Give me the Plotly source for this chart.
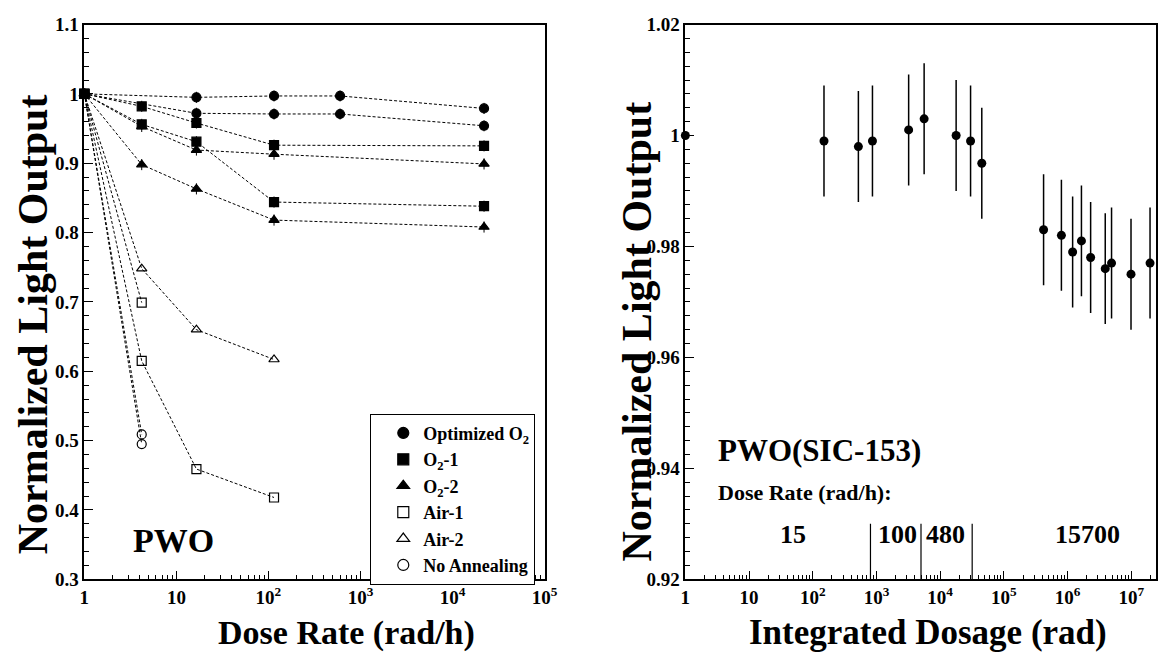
import plotly.graph_objects as go

# ---------------- Left panel data: Normalized light output vs dose rate ----------------
opt_x = [1, 16.5, 115, 600, 22000]
opt_a_y = [1.0, 0.995, 0.997, 0.997, 0.979]
opt_b_y = [1.0, 0.972, 0.971, 0.971, 0.954]

o2_x = [1, 4.2, 16.5, 115, 22000]
o21_a_y = [1.0, 0.982, 0.958, 0.926, 0.925]
o21_b_y = [1.0, 0.956, 0.931, 0.844, 0.838]
o22_a_y = [1.0, 0.953, 0.919, 0.913, 0.899]
o22_b_y = [1.0, 0.898, 0.863, 0.818, 0.808]

air_x = [1, 4.2, 16.5, 115]
air1_a_y = [1.0, 0.615, 0.459, 0.418]
air2_y = [1.0, 0.748, 0.660, 0.617]
short_x = [1, 4.2]
air1_b_y = [1.0, 0.699]
noann_a_y = [1.0, 0.509]
noann_b_y = [1.0, 0.495]

filled_err = 0.008

legend_names = ["<b>Optimized O<sub>2</sub></b>", "<b>O<sub>2</sub>-1</b>", "<b>O<sub>2</sub>-2</b>",
                "<b>Air-1</b>", "<b>Air-2</b>", "<b>No Annealing</b>"]
legend_symbols = ["circle", "square", "triangle-up", "square-open", "triangle-up-open", "circle-open"]

# ---------------- Right panel data: PWO(SIC-153) vs integrated dose ----------------
dose = [1, 150, 520, 865, 3200, 5600, 17800, 30000, 45000,
        4.2e5, 8.0e5, 1.2e6, 1.65e6, 2.3e6, 3.9e6, 4.9e6, 9.9e6, 1.97e7]
lo = [1.000, 0.999, 0.998, 0.999, 1.001, 1.003, 1.000, 0.999, 0.995,
      0.983, 0.982, 0.979, 0.981, 0.978, 0.976, 0.977, 0.975, 0.977]
lo_err = [0.0] + [0.01] * 17
boundaries = [805, 5000, 31800]
boundary_y = [0.92, 0.93]
rate_labels = ["15", "100", "480", "15700"]
rate_label_px = [800, 906, 955, 1099]

FONT = "Liberation Serif"
W, H = 1169, 661

fig = go.Figure()

def add_series(x, y, symbol, err=None):
    fig.add_trace(go.Scatter(
        x=x, y=y, mode="lines+markers", showlegend=False, cliponaxis=False,
        line=dict(color="black", width=1, dash="3px,2px"),
        marker=dict(symbol=symbol, size=9, color="black",
                    line=dict(color="black", width=1.2)),
        error_y=(dict(type="data", array=[0] + [err] * (len(y) - 1), color="black",
                      thickness=1, width=0) if err else None),
        xaxis="x", yaxis="y"))

# open series first
add_series(short_x, noann_a_y, "circle-open")
add_series(short_x, noann_b_y, "circle-open")
add_series(air_x, air2_y, "triangle-up-open")
add_series(air_x, air1_a_y, "square-open")
add_series(short_x, air1_b_y, "square-open")
add_series(opt_x, opt_a_y, "circle", filled_err)
add_series(opt_x, opt_b_y, "circle", filled_err)
add_series(o2_x, o22_a_y, "triangle-up", filled_err)
add_series(o2_x, o22_b_y, "triangle-up", filled_err)
add_series(o2_x, o21_b_y, "square", filled_err)
add_series(o2_x, o21_a_y, "square", filled_err)

# legend-only entries
for name, sym in zip(legend_names, legend_symbols):
    fig.add_trace(go.Scatter(
        x=[None], y=[None], mode="markers", name=name,
        marker=dict(symbol=sym, size=11, color="black", line=dict(color="black", width=1.2)),
        xaxis="x", yaxis="y"))

# right panel
fig.add_trace(go.Scatter(
    x=dose, y=lo, mode="markers", showlegend=False, cliponaxis=False,
    marker=dict(symbol="circle", size=9, color="black"),
    error_y=dict(type="data", array=lo_err, color="black", thickness=1.5, width=0),
    xaxis="x2", yaxis="y2"))

bx, by = [], []
for b in boundaries:
    bx += [b, b, None]
    by += boundary_y + [None]
fig.add_trace(go.Scatter(x=bx, y=by, mode="lines", showlegend=False,
                         line=dict(color="black", width=1.2), xaxis="x2", yaxis="y2"))

ydom = [1 - 588 / H, 1 - 15 / H]
tickfont = dict(family=FONT, size=19, color="black", weight="bold")
common_x = dict(type="log", ticks="inside", ticklen=9, tickwidth=1, tickcolor="black",
                showline=True, linecolor="black", linewidth=1.5, mirror=True,
                showgrid=False, zeroline=False, tickfont=tickfont,
                minor=dict(ticks="inside", ticklen=5, dtick="D1", tickcolor="black", showgrid=False))
common_y = dict(ticks="inside", ticklen=9, tickwidth=1, tickcolor="black",
                showline=True, linecolor="black", linewidth=1.5, mirror=True,
                showgrid=False, zeroline=False, tickfont=tickfont)

left_xticks = [1, 10, 100, 1000, 10000, 100000]
left_xtext = ["1", "10", "10<sup>2</sup>", "10<sup>3</sup>", "10<sup>4</sup>", "10<sup>5</sup>"]
right_xticks = [1, 10, 100, 1e3, 1e4, 1e5, 1e6, 1e7]
right_xtext = ["1", "10", "10<sup>2</sup>", "10<sup>3</sup>", "10<sup>4</sup>",
               "10<sup>5</sup>", "10<sup>6</sup>", "10<sup>7</sup>"]
left_yticks = [0.3, 0.4, 0.5, 0.6, 0.7, 0.8, 0.9, 1.0, 1.1]
left_ytext = ["0.3", "0.4", "0.5", "0.6", "0.7", "0.8", "0.9", "1", "1.1"]
right_yticks = [0.92, 0.94, 0.96, 0.98, 1.0, 1.02]
right_ytext = ["0.92", "0.94", "0.96", "0.98", "1", "1.02"]

fig.update_layout(
    width=W, height=H, margin=dict(l=0, r=0, t=0, b=0),
    paper_bgcolor="white", plot_bgcolor="white",
    font=dict(family=FONT, color="black"),
    xaxis=dict(common_x, domain=[80.6 / W, 548 / W], range=[0, 5],
               tickvals=left_xticks, ticktext=left_xtext, anchor="y"),
    yaxis=dict(common_y, domain=ydom, range=[0.3, 1.1],
               tickvals=left_yticks, ticktext=left_ytext, anchor="x",
               minor=dict(ticks="inside", ticklen=5, dtick=0.02, tickcolor="black", showgrid=False)),
    xaxis2=dict(common_x, domain=[691 / W, 1.0], range=[0, (1169 - 691) / 64.7],
                tickvals=right_xticks, ticktext=right_xtext, anchor="y2"),
    yaxis2=dict(common_y, domain=ydom, range=[0.92, 1.02],
                tickvals=right_yticks, ticktext=right_ytext, anchor="x2",
                minor=dict(ticks="inside", ticklen=5, dtick=0.0025, tickcolor="black", showgrid=False)),
    legend=dict(x=371 / W, y=1 - 417 / H, xanchor="left", yanchor="top",
                bordercolor="black", borderwidth=1, bgcolor="white",
                font=dict(family=FONT, size=18, color="black"), indentation=12,
                tracegroupgap=0),
    showlegend=True,
)

def ann(text, px, py, size, xanchor="center", angle=0):
    fig.add_annotation(text=text, x=px / W, y=1 - py / H, xref="paper", yref="paper",
                       showarrow=False, xanchor=xanchor, yanchor="middle", textangle=angle,
                       font=dict(family=FONT, size=size, color="black", weight="bold"))

ann("Dose Rate (rad/h)", 347, 643, 34)
ann("Integrated Dosage (rad)", 937, 643, 35)
ann("Normalized Light Output", 28, 325, 42, angle=-90)
ann("Normalized Light Output", 642, 332, 42, angle=-90)
ann("PWO", 171, 548, 34)
ann("PWO(SIC-153)", 722, 455, 31, xanchor="left")
ann("Dose Rate (rad/h):", 722, 498, 22, xanchor="left")
for t, p in zip(rate_labels, rate_label_px):
    ann(t, p, 542, 26)

fig.write_html("out.html")
